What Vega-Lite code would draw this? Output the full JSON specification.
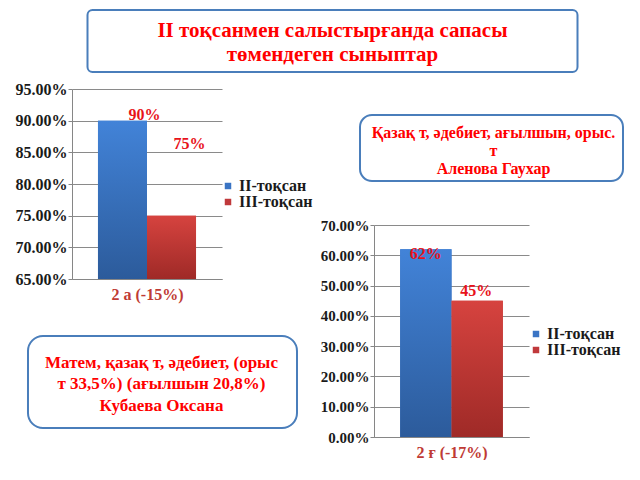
{
  "$schema": "https://vega.github.io/schema/vega-lite/v6.json",
  "background": "white",
  "padding": {"left": 15, "top": 9, "right": 0, "bottom": 0},
  "config": {
    "view": {"stroke": null},
    "font": "Times New Roman, Liberation Serif, serif",
    "axis": {
      "labelFont": "Times New Roman, Liberation Serif, serif",
      "titleFont": "Times New Roman, Liberation Serif, serif",
      "domainColor": "#868686",
      "tickColor": "#868686",
      "gridColor": "#8a8a8a",
      "gridWidth": 1
    },
    "legend": {
      "labelFont": "Times New Roman, Liberation Serif, serif"
    }
  },
  "datasets": {
    "title": [{"t": "II тоқсанмен салыстырғанда сапасы\nтөмендеген сыныптар"}],
    "box2": [{"t": "Қазақ т, әдебиет, ағылшын, орыс.\nт\nАленова Гаухар"}],
    "box3": [{"t": "Матем, қазақ т, әдебиет, (орыс\nт 33,5%) (ағылшын 20,8%)\nКубаева Оксана"}],
    "c1": [
      {"q": "II-тоқсан", "v": 0.90, "lbl": "90%"},
      {"q": "III-тоқсан", "v": 0.75, "lbl": "75%"}
    ],
    "c2": [
      {"q": "II-тоқсан", "v": 0.62, "lbl": "62%"},
      {"q": "III-тоқсан", "v": 0.45, "lbl": "45%"}
    ]
  },
  "vconcat": [
    {
      "width": 490,
      "height": 62,
      "view": {"stroke": "#4a7ebb", "strokeWidth": 2, "fill": "white", "cornerRadius": 5},
      "data": {"name": "title"},
      "mark": {"type": "text", "lineBreak": "\n", "lineHeight": 24, "fontSize": 21, "fontWeight": "bold", "color": "#ff0000", "font": "Times New Roman, Liberation Serif, serif", "align": "center", "baseline": "middle", "dy": -10},
      "encoding": {"text": {"field": "t"}}
    },
    {
      "hconcat": [
        {
          "vconcat": [
            {
              "width": 194,
              "height": 164,
              "data": {"name": "c1"},
              "encoding": {
                "x": {
                  "field": "q", "type": "nominal",
                  "scale": {"range": [44, 194], "paddingInner": 0, "paddingOuter": 0.53},
                  "axis": {"labels": false, "ticks": false, "grid": false, "title": "2 а (-15%)", "titleColor": "#bf3b35", "titleFontSize": 16, "titleFontWeight": "bold", "titlePadding": 7}
                },
                "y": {
                  "field": "v", "type": "quantitative",
                  "scale": {"domain": [0.65, 0.95], "range": [164, -26], "nice": false, "zero": false},
                  "axis": {"orient": "left", "offset": -44, "values": [0.65, 0.7, 0.75, 0.8, 0.85, 0.9, 0.95], "format": ".2%", "title": null, "grid": true, "tickSize": 4, "labelPadding": 1, "labelFontSize": 16, "labelFontWeight": "bold", "labelColor": "#1a1a1a"}
                }
              },
              "layer": [
                {
                  "mark": {"type": "bar"},
                  "encoding": {
                    "y2": {"datum": 0.65},
                    "color": {
                      "field": "q", "type": "nominal",
                      "scale": {"domain": ["II-тоқсан", "III-тоқсан"], "range": ["#3a74c4", "#c0393b"]},
                      "legend": {"orient": "none", "legendX": 192, "legendY": 63, "title": null, "symbolType": "square", "symbolSize": 42, "symbolStrokeWidth": 0, "labelFontSize": 16, "labelFontWeight": "bold", "labelColor": "#1a1a1a", "padding": 0, "rowPadding": -3, "labelOffset": 3}
                    }
                  }
                },
                {
                  "mark": {"type": "bar"},
                  "encoding": {
                    "y2": {"datum": 0.65},
                    "fill": {
                      "condition": {"test": "datum.q == 'II-тоқсан'", "value": {"gradient": "linear", "x1": 0, "y1": 0, "x2": 0, "y2": 1, "stops": [{"offset": 0, "color": "#4283d8"}, {"offset": 1, "color": "#2c5b9b"}]}},
                      "value": {"gradient": "linear", "x1": 0, "y1": 0, "x2": 0, "y2": 1, "stops": [{"offset": 0, "color": "#d6433f"}, {"offset": 1, "color": "#9f2a27"}]}
                    }
                  }
                },
                {
                  "transform": [{"filter": "datum.q == 'II-тоқсан'"}],
                  "mark": {"type": "text", "dx": 22, "dy": -6, "fontSize": 16, "fontWeight": "bold", "color": "#e8121a", "font": "Times New Roman, Liberation Serif, serif", "baseline": "middle"},
                  "encoding": {"text": {"field": "lbl"}}
                },
                {
                  "transform": [{"filter": "datum.q == 'III-тоқсан'"}],
                  "mark": {"type": "text", "dx": 18, "dy": -72, "fontSize": 16, "fontWeight": "bold", "color": "#e8121a", "font": "Times New Roman, Liberation Serif, serif", "baseline": "middle"},
                  "encoding": {"text": {"field": "lbl"}}
                }
              ]
            },
            {
              "width": 269,
              "height": 92,
              "view": {"stroke": "#4a7ebb", "strokeWidth": 2, "fill": "white", "cornerRadius": 15},
              "data": {"name": "box3"},
              "mark": {"type": "text", "lineBreak": "\n", "lineHeight": 21.5, "fontSize": 17, "fontWeight": "bold", "color": "#ff0000", "font": "Times New Roman, Liberation Serif, serif", "align": "center", "baseline": "middle", "dx": -1, "dy": -19.5},
              "encoding": {"text": {"field": "t"}}
            }
          ],
          "spacing": 57,
          "bounds": "flush",
          "resolve": {"scale": {"color": "independent"}, "legend": {"color": "independent"}}
        },
        {
          "vconcat": [
            {
              "width": 263,
              "height": 66,
              "view": {"stroke": "#4a7ebb", "strokeWidth": 2, "fill": "white", "cornerRadius": 12},
              "data": {"name": "box2"},
              "mark": {"type": "text", "lineBreak": "\n", "lineHeight": 18, "fontSize": 16, "fontWeight": "bold", "color": "#ff0000", "font": "Times New Roman, Liberation Serif, serif", "align": "center", "baseline": "middle", "dx": 2, "dy": -15},
              "encoding": {"text": {"field": "t"}}
            },
            {
              "width": 278,
              "height": 212,
              "data": {"name": "c2"},
              "encoding": {
                "x": {
                  "field": "q", "type": "nominal",
                  "scale": {"range": [14, 169], "paddingInner": 0, "paddingOuter": 0.51},
                  "axis": {"labels": false, "ticks": false, "grid": false, "title": "2 ғ (-17%)", "titleColor": "#bf3b35", "titleFontSize": 16, "titleFontWeight": "bold", "titlePadding": 7}
                },
                "y": {
                  "field": "v", "type": "quantitative",
                  "scale": {"domain": [0, 0.7], "nice": false},
                  "axis": {"orient": "left", "offset": -14, "values": [0, 0.1, 0.2, 0.3, 0.4, 0.5, 0.6, 0.7], "format": ".2%", "title": null, "grid": true, "tickSize": 4, "labelPadding": 1, "labelFontSize": 15, "labelFontWeight": "bold", "labelColor": "#1a1a1a"}
                }
              },
              "layer": [
                {
                  "mark": {"type": "bar"},
                  "encoding": {
                    "color": {
                      "field": "q", "type": "nominal",
                      "scale": {"domain": ["II-тоқсан", "III-тоқсан"], "range": ["#3a74c4", "#c0393b"]},
                      "legend": {"orient": "none", "legendX": 168, "legendY": 101, "title": null, "symbolType": "square", "symbolSize": 42, "symbolStrokeWidth": 0, "labelFontSize": 16, "labelFontWeight": "bold", "labelColor": "#1a1a1a", "padding": 0, "rowPadding": -6, "labelOffset": 3}
                    }
                  }
                },
                {
                  "mark": {"type": "bar"},
                  "encoding": {
                    "fill": {
                      "condition": {"test": "datum.q == 'II-тоқсан'", "value": {"gradient": "linear", "x1": 0, "y1": 0, "x2": 0, "y2": 1, "stops": [{"offset": 0, "color": "#4283d8"}, {"offset": 1, "color": "#2c5b9b"}]}},
                      "value": {"gradient": "linear", "x1": 0, "y1": 0, "x2": 0, "y2": 1, "stops": [{"offset": 0, "color": "#d6433f"}, {"offset": 1, "color": "#9f2a27"}]}
                    }
                  }
                },
                {
                  "transform": [{"filter": "datum.q == 'II-тоқсан'"}],
                  "mark": {"type": "text", "dx": 0, "dy": 5, "fontSize": 16, "fontWeight": "bold", "color": "#e8121a", "font": "Times New Roman, Liberation Serif, serif", "baseline": "middle"},
                  "encoding": {"text": {"field": "lbl"}}
                },
                {
                  "transform": [{"filter": "datum.q == 'III-тоқсан'"}],
                  "mark": {"type": "text", "dx": -1, "dy": -10, "fontSize": 16, "fontWeight": "bold", "color": "#e8121a", "font": "Times New Roman, Liberation Serif, serif", "baseline": "middle"},
                  "encoding": {"text": {"field": "lbl"}}
                }
              ]
            }
          ],
          "spacing": 44,
          "bounds": "flush",
          "resolve": {"scale": {"color": "independent"}, "legend": {"color": "independent"}}
        }
      ],
      "spacing": 7,
      "resolve": {"scale": {"color": "independent"}, "legend": {"color": "independent"}}
    }
  ],
  "spacing": 8,
  "center": true,
  "resolve": {"scale": {"color": "independent"}, "legend": {"color": "independent"}}
}
